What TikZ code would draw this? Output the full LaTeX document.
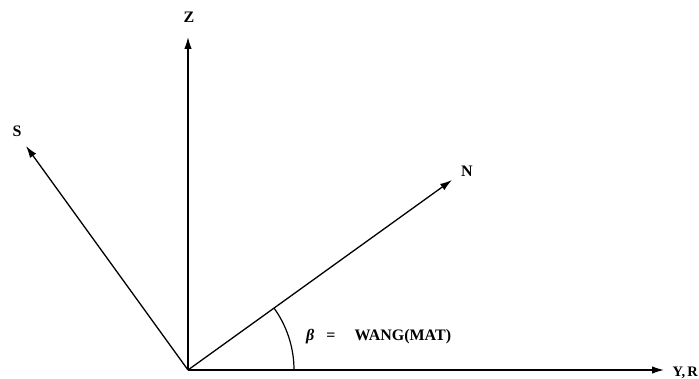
\documentclass[tikz,border=0pt]{standalone}
\usepackage{fontspec}
\setmainfont{Liberation Serif}
\usetikzlibrary{arrows.meta}
\begin{document}
\begin{tikzpicture}[x=1pt,y=-1pt,
  axis/.style={line width=1.3pt,-{Latex[length=12pt,width=7.5pt]}},
  lbl/.style={font=\fontsize{16}{16}\selectfont\bfseries, inner sep=0pt}]
\useasboundingbox (0,0) rectangle (699,379);
\coordinate (O) at (188,370);
\coordinate (Zt) at (188,37);
\coordinate (St) at (26,146);
\coordinate (Nt) at (452,180);
\coordinate (Yt) at (664,370);
\draw[axis] (O) -- (Zt);
\draw[axis] (O) -- (St);
\draw[axis] (O) -- (Nt);
\draw[axis] (O) -- (Yt);
\node[lbl] (zl) at (189,17) {Z};
\node[lbl] (sl) at (17,131) {S};
\node[lbl] (nl) at (467,171) {N};
\node[lbl,anchor=east,font=\fontsize{14.5}{14.5}\selectfont\bfseries] (yl) at (698,373) {Y,\hspace{2pt}R};
\draw[line width=1.2pt] ([shift={(0:106)}]O) arc[start angle=0,end angle=-35.7,radius=106];
\node[lbl,anchor=west] (bl) at (306,337) {\textit{β}\hspace{12pt}=\hspace{19pt}WANG(MAT)};
\end{tikzpicture}
\end{document}
